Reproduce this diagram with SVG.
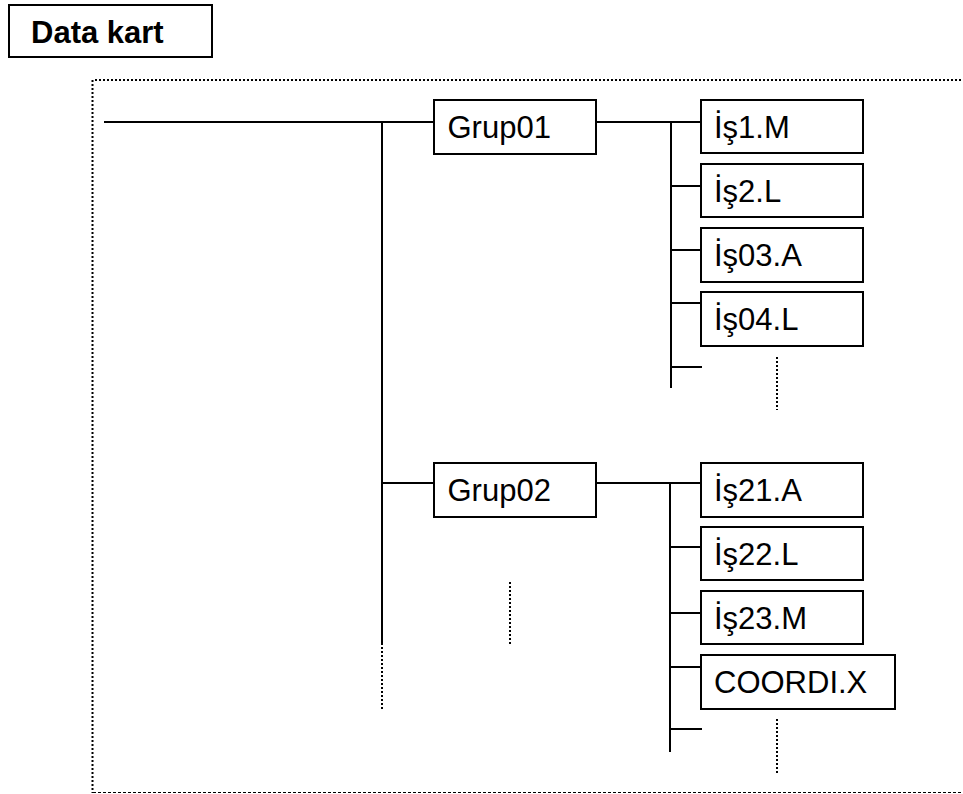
<svg xmlns="http://www.w3.org/2000/svg" width="963" height="794" viewBox="0 0 963 794">
<style>
.box{fill:#fff;stroke:#000;stroke-width:2}
.t{font-family:"Liberation Sans",Arial,sans-serif;font-size:31px;fill:#000}
.b{font-weight:bold}
.ln{stroke:#000;stroke-width:2;fill:none}
.dot{stroke:#000;stroke-width:2;stroke-dasharray:2 2;fill:none}
.fr{stroke:#000;stroke-width:1;stroke-dasharray:3 2;fill:none}
</style>
<rect x="0" y="0" width="963" height="794" fill="#fff"/>
<g id="title">
<rect class="box" x="9" y="5" width="203" height="52"/>
<text class="t b" x="31" y="43">Data kart</text>
</g>
<g id="frame">
<line class="dot" x1="92.5" y1="80" x2="92.5" y2="793"/>
<line class="dot" x1="95" y1="80" x2="963" y2="80"/>
<line class="fr" x1="93" y1="792.5" x2="963" y2="792.5"/>
</g>
<g id="connectors">
<line class="ln" x1="104" y1="122" x2="434" y2="122"/>
<line class="ln" x1="382" y1="121" x2="382" y2="643"/>
<line class="dot" x1="382" y1="643" x2="382" y2="709"/>
<line class="ln" x1="382" y1="483" x2="434" y2="483"/>
<line class="ln" x1="596" y1="122" x2="701" y2="122"/>
<line class="ln" x1="671" y1="121" x2="671" y2="388"/>
<line class="ln" x1="671" y1="186" x2="701" y2="186"/>
<line class="ln" x1="671" y1="250" x2="701" y2="250"/>
<line class="ln" x1="671" y1="303" x2="701" y2="303"/>
<line class="ln" x1="671" y1="367" x2="702" y2="367"/>
<line class="dot" x1="777" y1="357" x2="777" y2="410"/>
<line class="ln" x1="596" y1="483" x2="701" y2="483"/>
<line class="ln" x1="670" y1="482" x2="670" y2="752"/>
<line class="ln" x1="670" y1="547" x2="701" y2="547"/>
<line class="ln" x1="670" y1="613" x2="701" y2="613"/>
<line class="ln" x1="670" y1="667" x2="701" y2="667"/>
<line class="ln" x1="670" y1="729" x2="702" y2="729"/>
<line class="dot" x1="777" y1="719" x2="777" y2="774"/>
<line class="dot" x1="510" y1="582" x2="510" y2="645"/>
</g>
<g id="grup01">
<rect class="box" x="434" y="100" width="162" height="54"/>
<text class="t" x="447.5" y="138">Grup01</text>
</g>
<g id="is1m">
<rect class="box" x="701" y="100" width="162" height="53"/>
<text class="t" x="714" y="138">İş1.M</text>
</g>
<g id="is2l">
<rect class="box" x="701" y="164" width="162" height="53"/>
<text class="t" x="714" y="202">İş2.L</text>
</g>
<g id="is03a">
<rect class="box" x="701" y="228" width="162" height="54"/>
<text class="t" x="714" y="266">İş03.A</text>
</g>
<g id="is04l">
<rect class="box" x="701" y="292" width="162" height="54"/>
<text class="t" x="714" y="330">İş04.L</text>
</g>
<g id="grup02">
<rect class="box" x="434" y="463" width="162" height="54"/>
<text class="t" x="447.5" y="501">Grup02</text>
</g>
<g id="is21a">
<rect class="box" x="701" y="463" width="162" height="54"/>
<text class="t" x="714" y="501">İş21.A</text>
</g>
<g id="is22l">
<rect class="box" x="701" y="527" width="162" height="53"/>
<text class="t" x="714" y="565">İş22.L</text>
</g>
<g id="is23m">
<rect class="box" x="701" y="591" width="162" height="53"/>
<text class="t" x="714" y="629">İş23.M</text>
</g>
<g id="coordix">
<rect class="box" x="701" y="655" width="194" height="54"/>
<text class="t" x="714" y="693">COORDI.X</text>
</g>
</svg>
